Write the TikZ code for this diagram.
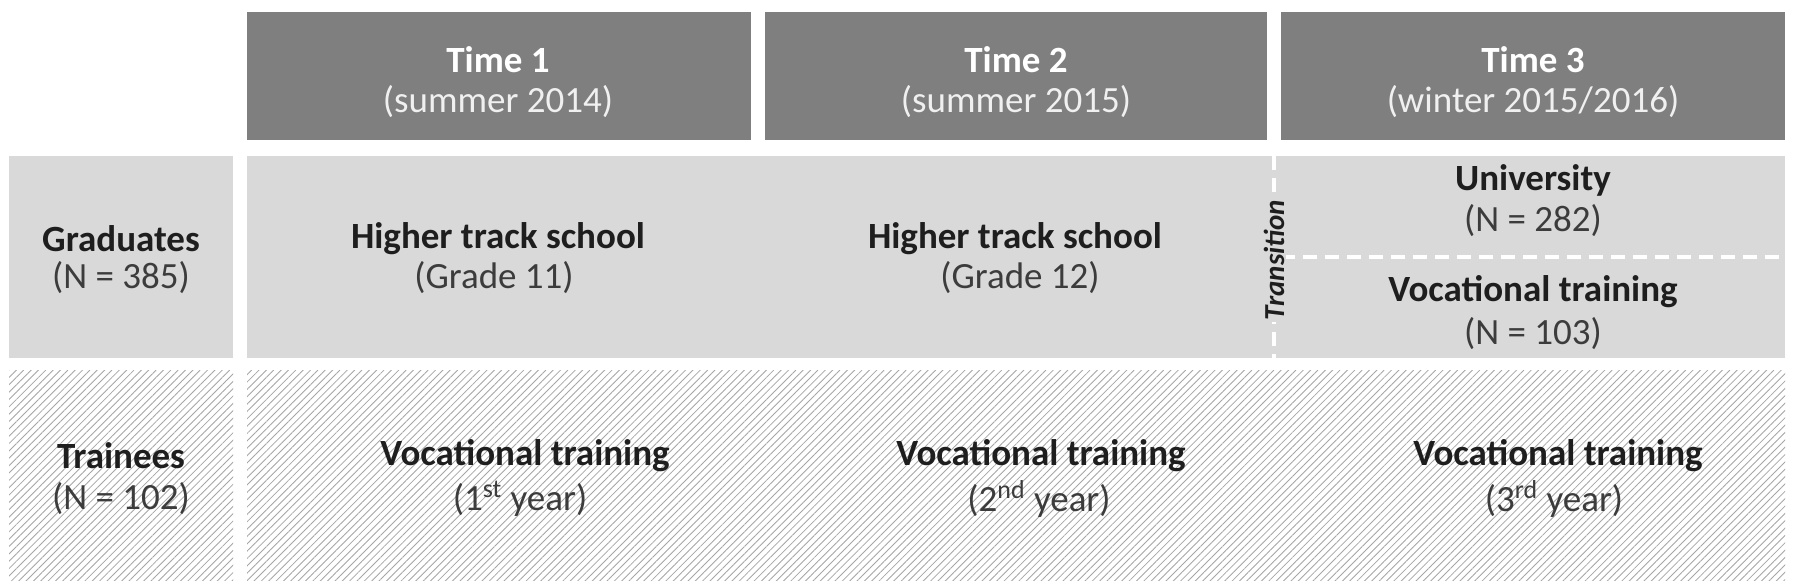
\documentclass[tikz,border=0pt]{standalone}
\usepackage{fontspec}
\setmainfont{Carlito}
\usetikzlibrary{patterns.meta}
\definecolor{hdrgray}{HTML}{7F7F7F}
\definecolor{boxgray}{HTML}{D9D9D9}
\definecolor{hatchgray}{HTML}{A6A6A6}
\definecolor{txtdark}{HTML}{1E1E1E}
\definecolor{txtmid}{HTML}{3C3C3C}
\begin{document}
\begin{tikzpicture}[x=0.5pt,y=-0.5pt,
  hdrbox/.style={fill=hdrgray},
  plainbox/.style={fill=boxgray},
  hatchbox/.style={pattern={Lines[angle=45,distance=2.6pt,line width=0.42pt]},pattern color=hatchgray},
  sepline/.style={draw=white,line width=2pt,dash pattern=on 7pt off 4pt},
  hdrtitle/.style={font=\fontsize{18.5}{20}\selectfont\bfseries,text=white,inner sep=0pt},
  hdrsub/.style={font=\fontsize{18.5}{20}\selectfont,text=white!94!black,inner sep=0pt},
  lbl/.style={font=\fontsize{18.5}{20}\selectfont\bfseries,text=txtdark,inner sep=0pt},
  sub/.style={font=\fontsize{18.5}{20}\selectfont,text=txtmid,inner sep=0pt},
  trans/.style={font=\fontsize{14.5}{16}\selectfont\bfseries\itshape,text=txtdark,fill=boxgray,inner sep=1pt,rotate=90}
]
\useasboundingbox (0,0) rectangle (1800,585);
\fill[white] (0,0) rectangle (1800,585);

% header boxes
\fill[hdrbox] (247,11.5) rectangle (751,140);
\fill[hdrbox] (765,11.5) rectangle (1267,140);
\fill[hdrbox] (1281,11.5) rectangle (1785,140);

% graduates row
\fill[plainbox] (9,156) rectangle (233,358);
\fill[plainbox] (247,156) rectangle (1785,358);

% trainees row
\fill[white] (9,370) rectangle (233,580);
\path[hatchbox] (9,370) rectangle (233,580);
\fill[white] (247,370) rectangle (1785,580);
\path[hatchbox] (247,370) rectangle (1785,580);

% separators
\coordinate (vtop) at (1274,156);
\coordinate (vbot) at (1274,358);
\coordinate (hl) at (1281,257);
\coordinate (hr) at (1785,257);
\draw[sepline] (vtop) -- (vbot);
\draw[sepline] (hl) -- (hr);
\node[trans] (tr) at (1274,260) {Transition};

% header texts
\node[hdrtitle] (t1) at (498,60) {Time 1};
\node[hdrsub] (s1) at (498,102) {(summer 2014)};
\node[hdrtitle] (t2) at (1016,60) {Time 2};
\node[hdrsub] (s2) at (1016,102) {(summer 2015)};
\node[hdrtitle] (t3) at (1533,60) {Time 3};
\node[hdrsub] (s3) at (1533,102) {(winter 2015/2016)};

% graduates texts
\node[lbl] (g) at (121,239) {Graduates};
\node[sub] (gn) at (121,278) {(N = 385)};
\node[lbl] (h1) at (498,239) {Higher track school};
\node[sub] (h1s) at (494,278) {(Grade 11)};
\node[lbl] (h2) at (1015,239) {Higher track school};
\node[sub] (h2s) at (1020,278) {(Grade 12)};
\node[lbl] (u) at (1533,180) {University};
\node[sub] (un) at (1533,221) {(N = 282)};
\node[lbl] (v) at (1533,292) {Vocational training};
\node[sub] (vn) at (1533,334) {(N = 103)};

% trainees texts
\node[lbl] (tr0) at (121,456) {Trainees};
\node[sub] (tr0n) at (121,499) {(N = 102)};
\node[lbl] (v1) at (525,456) {Vocational training};
\node[sub] (v1s) at (520,499) {(1\textsuperscript{st} year)};
\node[lbl] (v2) at (1041,456) {Vocational training};
\node[sub] (v2s) at (1039,499) {(2\textsuperscript{nd} year)};
\node[lbl] (v3) at (1558,456) {Vocational training};
\node[sub] (v3s) at (1554,499) {(3\textsuperscript{rd} year)};
\end{tikzpicture}
\end{document}
